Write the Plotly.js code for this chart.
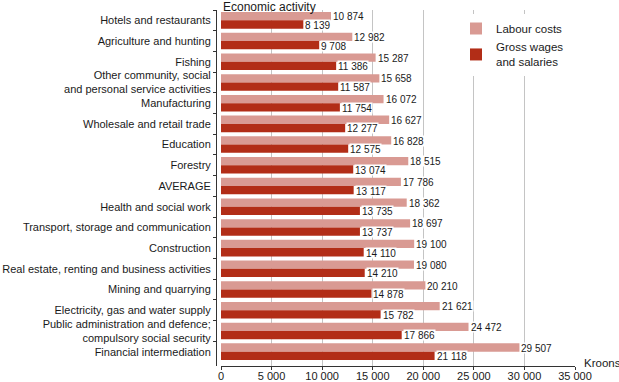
<!DOCTYPE html>
<html>
<head>
<meta charset="utf-8">
<script src="https://cdn.plot.ly/plotly-3.0.1.min.js"></script>
<style>html,body{margin:0;padding:0;background:#fff;}#chart{width:619px;height:382px;}</style>
</head>
<body>
<div id="chart"></div>
<script>
const categories = [
  "Hotels and restaurants",
  "Agriculture and hunting",
  "Fishing",
  "Other community, social<br>and personal service activities",
  "Manufacturing",
  "Wholesale and retail trade",
  "Education",
  "Forestry",
  "AVERAGE",
  "Health and social work",
  "Transport, storage and communication",
  "Construction",
  "Real estate, renting and business activities",
  "Mining and quarrying",
  "Electricity, gas and water supply",
  "Public administration and defence;<br>compulsory social security",
  "Financial intermediation"
];
const labourCosts = [10874, 12982, 15287, 15658, 16072, 16627, 16828, 18515, 17786, 18362, 18697, 19100, 19080, 20210, 21621, 24472, 29507];
const grossWages = [8139, 9708, 11386, 11587, 11754, 12277, 12575, 13074, 13117, 13735, 13737, 14110, 14210, 14878, 15782, 17866, 21118];
const xTicks = [0, 5000, 10000, 15000, 20000, 25000, 30000, 35000];

const W = 619, H = 382;
const FONT = "'Liberation Sans', Arial, sans-serif";
const fmt = v => String(v).replace(/\B(?=(\d{3})+(?!\d))/g, " ");

const traces = [
  {type: "bar", orientation: "h", name: "Labour costs", y: categories, x: labourCosts,
   marker: {color: "#D99A93"}, hoverinfo: "x+y", legendgroup: "a"},
  {type: "bar", orientation: "h", name: "Gross wages<br>and salaries", y: categories, x: grossWages,
   marker: {color: "#B22D17"}, hoverinfo: "x+y", legendgroup: "b"}
];

const annotations = [];
categories.forEach((c, i) => {
  annotations.push({x: labourCosts[i], y: c, xref: "x", yref: "y", text: fmt(labourCosts[i]),
    xanchor: "left", yanchor: "middle", xshift: 1, yshift: 4, showarrow: false,
    bgcolor: "#ffffff", borderpad: 0, height: 10, font: {family: FONT, size: 10, color: "#1a1a1a"}});
  annotations.push({x: grossWages[i], y: c, xref: "x", yref: "y", text: fmt(grossWages[i]),
    xanchor: "left", yanchor: "middle", xshift: 1, yshift: -4.5, showarrow: false,
    bgcolor: "#ffffff", borderpad: 0, height: 10, font: {family: FONT, size: 10, color: "#1a1a1a"}});
});
annotations.push({xref: "paper", yref: "paper", x: 221 / W, y: 1 - 6.5 / H, xanchor: "left", yanchor: "middle",
  text: "Economic activity", showarrow: false, font: {family: FONT, size: 12, color: "#1a1a1a"}});
annotations.push({xref: "paper", yref: "paper", x: 582 / W, y: 1 - 363 / H, xanchor: "left", yanchor: "middle",
  text: "Kroons", showarrow: false, font: {family: FONT, size: 11.5, color: "#1a1a1a"}});

const layout = {
  width: W, height: H,
  margin: {l: 0, r: 0, t: 0, b: 0},
  paper_bgcolor: "#ffffff", plot_bgcolor: "#ffffff",
  font: {family: FONT, size: 11, color: "#1a1a1a"},
  separators: ". ",
  barmode: "group", bargap: 0.2, bargroupgap: 0,
  showlegend: true,
  legend: {x: 456 / W, y: 1 - 14 / H, xanchor: "left", yanchor: "top", bgcolor: "#ffffff",
    borderwidth: 0, traceorder: "grouped", tracegroupgap: 0,
    font: {family: FONT, size: 11.5, color: "#1a1a1a"}},
  xaxis: {
    domain: [221 / W, 575 / W], range: [0, 35000], anchor: "y",
    tickvals: xTicks, ticktext: xTicks.map(fmt),
    showline: true, linecolor: "#333333", linewidth: 1,
    ticks: "outside", ticklen: 3, tickcolor: "#333333", ticklabelstandoff: -3,
    showgrid: true, gridcolor: "#c4c4c4", gridwidth: 1, zeroline: false,
    tickfont: {family: FONT, size: 11, color: "#1a1a1a"}, fixedrange: true
  },
  yaxis: {
    type: "category", autorange: false, range: [16.5 + 4 / 20.7, -0.5],
    domain: [1 - 366 / H, 1 - 10 / H], anchor: "free", position: 216 / W,
    showline: true, linecolor: "#333333", linewidth: 1,
    ticks: "outside", tickson: "boundaries", ticklen: 3, tickcolor: "#333333", ticklabelstandoff: 3,
    showgrid: false, zeroline: false,
    tickfont: {family: FONT, size: 11, color: "#1a1a1a"}, fixedrange: true
  },
  annotations: annotations
};

Plotly.newPlot("chart", traces, layout, {displayModeBar: false, staticPlot: true});
</script>
</body>
</html>
